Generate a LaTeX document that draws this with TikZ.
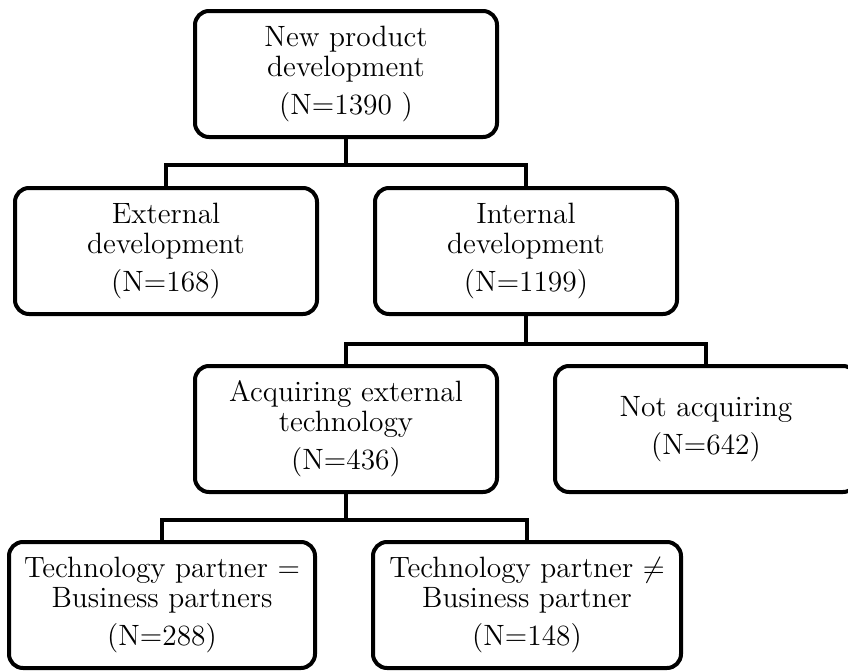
\documentclass[tikz,border=0pt]{standalone}
\begin{document}
\begin{tikzpicture}[x=0.5pt, y=-0.5pt,
		box/.style={draw, line width=2pt, rounded corners=7pt, minimum width=151pt, minimum height=63pt, inner sep=0pt, align=center, font=\fontsize{14.7pt}{15pt}\selectfont},
		link/.style={line width=2pt}]
		\useasboundingbox (0, 0) rectangle (848, 671);
		\clip (0, 0) rectangle (848, 671);
		% boxes, pixel coordinates of their centres
		\node[box] (npd) at (346, 74) {New product\\development\\[4pt](N=1390 )};
		\node[box] (ext) at (166, 251) {External\\development\\[4pt](N=168)};
		\node[box] (int) at (526, 251) {Internal\\development\\[4pt](N=1199)};
		\node[box] (acq) at (346, 429) {Acquiring external\\technology\\[4pt](N=436)};
		\node[box] (noacq) at (706, 429) {Not acquiring\\[4pt](N=642)};
		\node[box, minimum width=153pt] (same) at (162, 605) {Technology partner =\\Business partners\\[4pt](N=288)};
		\node[box, minimum width=154pt] (diff) at (527, 605) {Technology partner $\neq$\\Business partner\\[4pt](N=148)};
		% tree links
		\foreach \a/\b in {npd/ext, npd/int} {
			\draw[link] (\a.south) -- ++(0, 26) -| (\b.north);
		}
		\foreach \a/\b in {int/acq, int/noacq} {
			\draw[link] (\a.south) -- ++(0, 28) -| (\b.north);
		}
		\foreach \a/\b in {acq/same, acq/diff} {
			\draw[link] (\a.south) -- ++(0, 26) -| (\b.north);
		}
	\end{tikzpicture}
\end{document}
